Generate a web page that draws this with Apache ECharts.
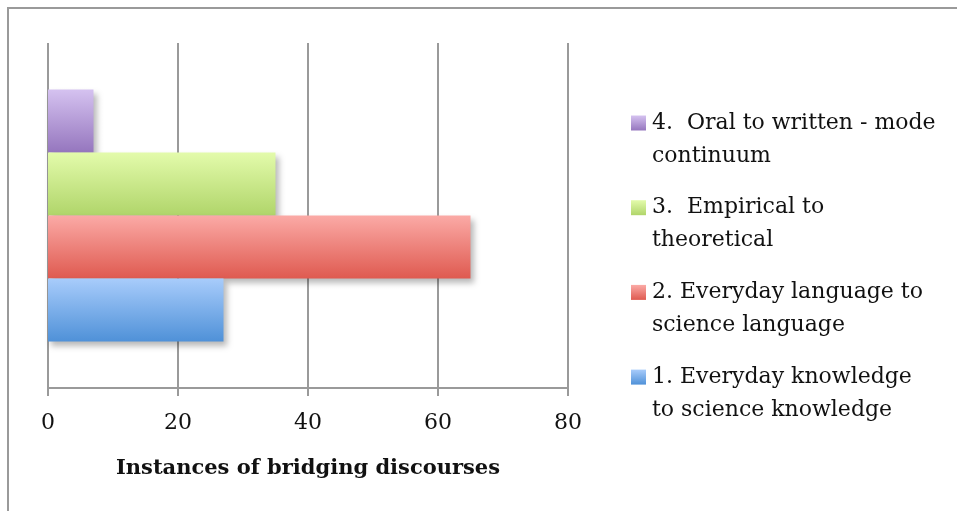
<!DOCTYPE html>
<html>
<head>
<meta charset="utf-8">
<script src="https://cdn.jsdelivr.net/npm/echarts@6/dist/echarts.min.js"></script>
<style>
  html, body { margin: 0; padding: 0; background: #fff; }
  #chart { width: 957px; height: 511px; }
</style>
</head>
<body>
<div id="chart"></div>
<script>
// Bridging discourse counts, one bar per type
const categories = ['Bridging discourses'];
const seriesNames = [
  '1. Everyday knowledge to science knowledge',
  '2. Everyday language to science language',
  '3.  Empirical to theoretical',
  '4.  Oral to written - mode continuum'
];
const legendLabels = [
  '1. Everyday knowledge\nto science knowledge',
  '2. Everyday language to\nscience language',
  '3.  Empirical to\ntheoretical',
  '4.  Oral to written - mode\ncontinuum'
];
const values = [27, 65, 35, 7];
const xTicks = [0, 20, 40, 60, 80];

const gradients = [
  ['#a8ccfb', '#4f91d8'],
  ['#fbaaa6', '#df5a50'],
  ['#e3fbab', '#b0d56a'],
  ['#d5c2f0', '#9576be']
];

const FONT = 'DejaVu Serif';
const chart = echarts.init(document.getElementById('chart'));

function grad(i) {
  return new echarts.graphic.LinearGradient(0, 0, 0, 1, [
    { offset: 0, color: gradients[i][0] },
    { offset: 1, color: gradients[i][1] }
  ]);
}

// Stack order top to bottom: 4, 3, 2, 1
const order = seriesNames.map((_, i) => i).reverse();

// Legend block on the right, top entry is the last series
const LEG_X = 631, LEG_TOP = 123, LEG_STEP = 84.7, LINE_H = 33;
const legendItems = [];
order.forEach((i, k) => {
  const cy = LEG_TOP + k * LEG_STEP;
  legendItems.push({
    type: 'rect',
    shape: { x: LEG_X, y: cy - 7.5, width: 15, height: 15 },
    style: { fill: grad(i) },
    silent: true
  });
  legendItems.push({
    type: 'text',
    x: LEG_X + 21,
    y: cy - LINE_H / 2,
    style: {
      text: legendLabels[i],
      font: '22px "' + FONT + '"',
      fill: '#111',
      lineHeight: LINE_H,
      verticalAlign: 'top',
      align: 'left'
    },
    silent: true
  });
});

chart.setOption({
  animation: false,
  backgroundColor: '#ffffff',
  graphic: [{
    type: 'rect',
    shape: { x: 8, y: 8, width: 1000, height: 600 },
    style: { fill: 'none', stroke: '#9a9a9a', lineWidth: 2 },
    silent: true,
    z: -1
  }].concat(legendItems),
  grid: { left: 48, right: 957 - 568, top: 43, bottom: 511 - 388, containLabel: false },
  xAxis: {
    type: 'value',
    min: xTicks[0],
    max: xTicks[xTicks.length - 1],
    interval: 20,
    name: 'Instances of bridging discourses',
    nameLocation: 'middle',
    nameGap: 70,
    nameTextStyle: { fontFamily: FONT, fontSize: 21, fontWeight: 'bold', color: '#111' },
    axisLine: { show: true, lineStyle: { color: '#9a9a9a', width: 2 } },
    axisTick: { show: true, length: 8, lineStyle: { color: '#9a9a9a', width: 2 } },
    axisLabel: { fontFamily: FONT, fontSize: 22, color: '#111', margin: 24 },
    splitLine: { show: true, lineStyle: { color: '#9a9a9a', width: 2 } }
  },
  yAxis: {
    type: 'category',
    data: categories,
    axisLine: { show: false },
    axisTick: { show: false },
    axisLabel: { show: false }
  },
  series: order.map(i => ({
    type: 'bar',
    name: seriesNames[i],
    data: [values[i]],
    barWidth: 63,
    barGap: '0%',
    itemStyle: {
      color: grad(i),
      shadowColor: 'rgba(0,0,0,0.28)',
      shadowBlur: 6,
      shadowOffsetX: 3,
      shadowOffsetY: 4
    }
  }))
});
</script>
</body>
</html>
